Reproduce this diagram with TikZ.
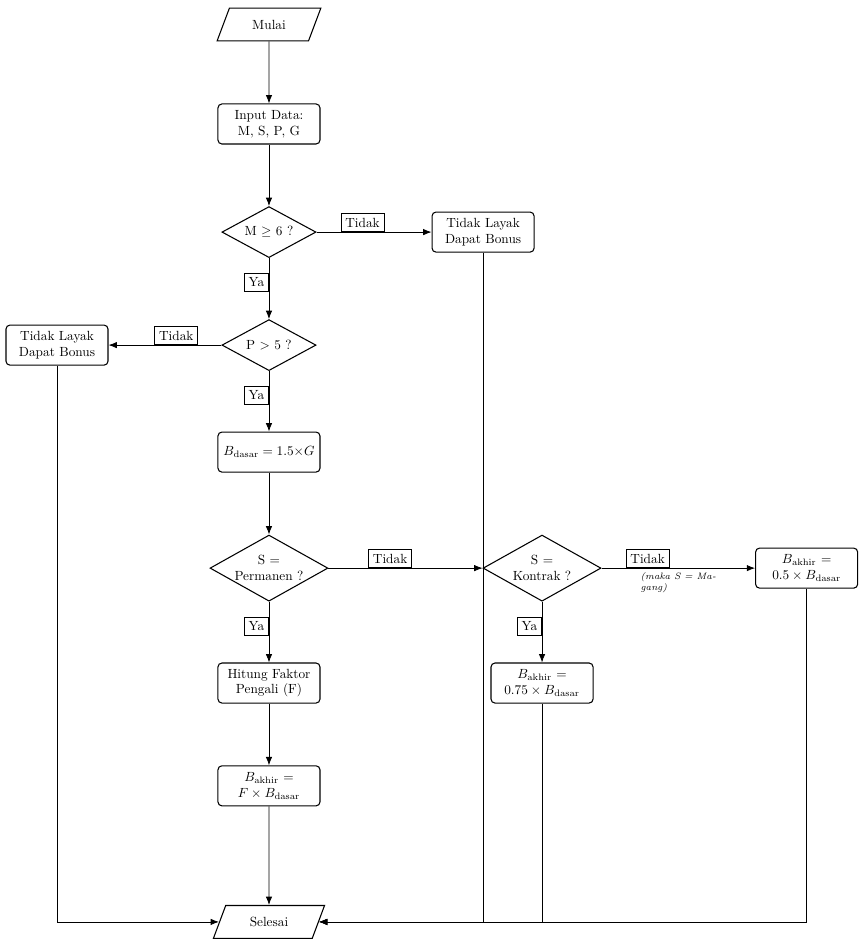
\documentclass[tikz,border=0pt]{standalone}
\usetikzlibrary{shapes.geometric,arrows.meta}
\begin{document}
\begin{tikzpicture}[
  proc/.style={draw, rounded corners=3pt, thick, minimum width=2.7cm, minimum height=1.06cm, align=center, inner sep=2pt},
  dec/.style={draw, diamond, shape aspect=1.8, thick, align=center, inner sep=0pt, minimum width=2.49cm, minimum height=1.35cm},
  decbig/.style={dec, minimum width=3.12cm, minimum height=1.75cm},
  io/.style={draw, trapezium, trapezium left angle=70, trapezium right angle=110, thick, minimum width=2.75cm, minimum height=0.87cm, trapezium stretches=true},
  lbl/.style={draw, semithick},
  note/.style={font=\scriptsize\itshape, align=left},
  conn/.style={line width=0.6pt, -{Latex[length=2.2mm,width=1.7mm]}}
]
\useasboundingbox (0,0) rectangle (22.86,-25.08);

\node[io] (mulai) at (7.116,-0.648) {Mulai};
\node[proc] (input) at (7.116,-3.28) {Input Data:\\M, S, P, G};
\node[dec] (m6) at (7.116,-6.14) {M $\geq$ 6 ?};
\node[proc] (tl1) at (12.78,-6.14) {Tidak Layak\\Dapat Bonus};
\node[dec] (p5) at (7.116,-9.13) {P $>$ 5 ?};
\node[proc] (tl2) at (1.508,-9.13) {Tidak Layak\\Dapat Bonus};
\node[proc] (bdasar) at (7.116,-11.96) {$B_{\mathrm{dasar}} = 1.5{\times}G$};
\node[decbig] (perm) at (7.116,-15.03) {S =\\Permanen ?};
\node[decbig] (kontrak) at (14.34,-15.03) {S =\\Kontrak ?};
\node[proc] (b05) at (21.34,-15.03) {$B_{\mathrm{akhir}}$ =\\$0.5\times B_{\mathrm{dasar}}$};
\node[proc] (b075) at (14.34,-18.07) {$B_{\mathrm{akhir}}$ =\\$0.75\times B_{\mathrm{dasar}}$};
\node[proc] (hitung) at (7.116,-18.07) {Hitung Faktor\\Pengali (F)};
\node[proc] (bf) at (7.116,-20.79) {$B_{\mathrm{akhir}}$ =\\$F\times B_{\mathrm{dasar}}$};
\node[io, minimum width=2.95cm] (selesai) at (7.116,-24.39) {Selesai};

\draw[conn] (mulai) -- (input);
\draw[conn] (input) -- (m6);
\draw[conn] (m6) -- node[lbl, above, pos=0.4] {Tidak} (tl1);
\draw[conn] (m6) -- node[lbl, left, pos=0.4] {Ya} (p5);
\draw[conn] (p5) -- node[lbl, above, pos=0.4] {Tidak} (tl2);
\draw[conn] (p5) -- node[lbl, left, pos=0.4] {Ya} (bdasar);
\draw[conn] (bdasar) -- (perm);
\draw[conn] (perm) -- node[lbl, above, pos=0.4] {Tidak} (kontrak);
\draw[conn] (kontrak) -- node[lbl, above, pos=0.3] {Tidak} node[note, below, pos=0.5] {(maka S = Ma-\\gang)} (b05);
\draw[conn] (kontrak) -- node[lbl, left, pos=0.4] {Ya} (b075);
\draw[conn] (perm) -- node[lbl, left, pos=0.4] {Ya} (hitung);
\draw[conn] (hitung) -- (bf);
\draw[conn] (bf) -- (selesai);
\draw[conn] (tl2) |- (selesai);
\draw[conn] (tl1) |- (selesai);
\draw[conn] (b075) |- (selesai);
\draw[conn] (b05) |- (selesai);
\end{tikzpicture}
\end{document}
